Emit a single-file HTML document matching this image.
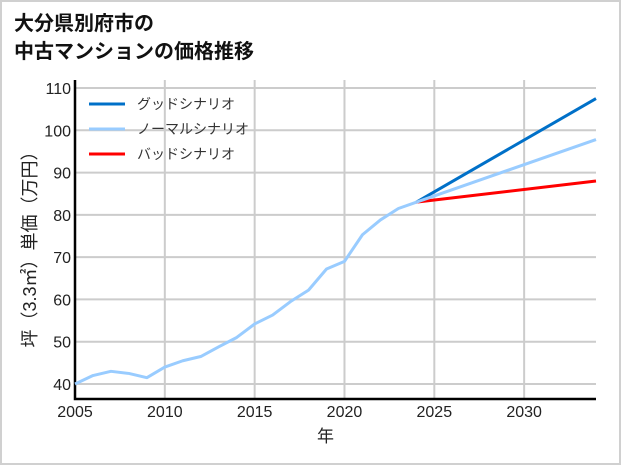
<!DOCTYPE html>
<html><head><meta charset="utf-8"><style>
body{margin:0;background:#fff}
#wrap{position:relative;width:617px;height:461px;border:2px solid #d0d0d0;background:#fff;font-family:"Liberation Sans","Noto Sans CJK JP",sans-serif}
#title{position:absolute;left:12px;top:8px;font-size:20px;font-weight:bold;line-height:28px;color:#111}
</style></head><body>
<div id="wrap">
<div id="title">大分県別府市の<br>中古マンションの価格推移</div>
<svg id="chart" width="621" height="465" style="position:absolute;left:-2px;top:-2px"></svg>
</div>
<script>
const years=[2005,2006,2007,2008,2009,2010,2011,2012,2013,2014,2015,2016,2017,2018,2019,2020,2021,2022,2023,2024];
const prices=[40,42,43,42.5,41.5,44,45.5,46.5,48.8,51,54.2,56.3,59.5,62.2,67.2,69,75.3,78.8,81.5,83];
const scenarioYears=[2024,2034];
const goodVals=[83,107.5];
const normalVals=[83,97.8];
const badVals=[83,88];
const xTicks=[2005,2010,2015,2020,2025,2030];
const yTicks=[40,50,60,70,80,90,100,110];
const legendLabels=["グッドシナリオ","ノーマルシナリオ","バッドシナリオ"];

const NS="http://www.w3.org/2000/svg";
const svg=document.getElementById('chart');
const L=75,R=596,T=80,B=399;
const x=v=>L+(v-2005)/(2034-2005)*(R-L);
const y=v=>384-(v-40)*(296/70);
function mk(t,a,p){const e=document.createElementNS(NS,t);for(const k in a)e.setAttribute(k,a[k]);(p||svg).appendChild(e);return e;}
const font='"Liberation Sans","Noto Sans CJK JP",sans-serif';
xTicks.forEach(v=>{
 const g=mk('line',{x1:x(v),x2:x(v),y1:T,y2:B,stroke:'#ccc','stroke-width':2});
 
 
 const t=mk('text',{x:x(v),y:B+18,'text-anchor':'middle','font-size':16,fill:'#222','font-family':font});
 t.textContent=v;
 
 
});
yTicks.forEach(v=>{
 const g=mk('line',{x1:L,x2:R,y1:y(v),y2:y(v),stroke:'#ccc','stroke-width':2});
 
 
 const t=mk('text',{x:L-4,y:y(v)+6,'text-anchor':'end','font-size':16,fill:'#222','font-family':font});
 t.textContent=v;
 
 
});
const ax=mk('path',{d:`M${L} ${T}V${B}H${R}`,stroke:'#000','stroke-width':2.5,fill:'none'});


function line(xs,ys,c,name){
 const p=mk('polyline',{points:xs.map((v,i)=>x(v)+','+y(ys[i])).join(' '),stroke:c,'stroke-width':3,fill:'none','stroke-linejoin':'round'});
 
 
}
line(scenarioYears,goodVals,'#0070c8','good-scenario-line');
line(scenarioYears,badVals,'#ff0000','bad-scenario-line');
line(scenarioYears,normalVals,'#99ccff','normal-scenario-line');
line(years,prices,'#99ccff','historical-price-line');
const cols=['#0070c8','#99ccff','#ff0000'];
legendLabels.forEach((s,i)=>{
 const yy=104+i*25;
 const l=mk('line',{x1:89,x2:125,y1:yy,y2:yy,stroke:cols[i],'stroke-width':3});
 
 
 const t=mk('text',{x:137,y:yy+5,'font-size':14,fill:'#333','font-family':font});
 t.textContent=s;
 
 
});
const xt=mk('text',{x:(L+R)/2-10,y:442,'text-anchor':'middle','font-size':17,fill:'#222','font-family':font});
xt.textContent='年';


const yt=mk('text',{x:0,y:0,'text-anchor':'middle','font-size':18,fill:'#222','font-family':font,transform:'translate(36,245) rotate(-90)'});
yt.textContent='坪（3.3㎡）単価（万円）';


</script>
</body></html>
